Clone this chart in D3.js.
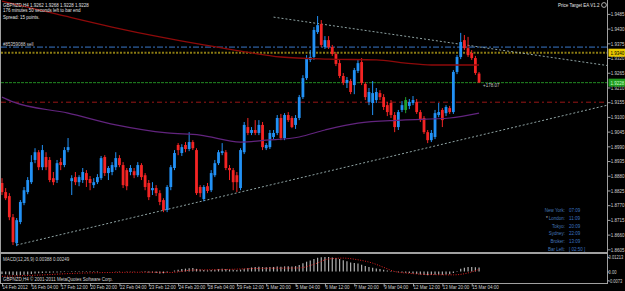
<!DOCTYPE html>
<html lang="en">
<head>
<meta charset="UTF-8">
<title>GBPNZD,H4</title>
<style>
  body { margin: 0; background: #000; }
  svg { display: block; }
  text { font-family: "Liberation Sans", Arial, sans-serif; }
</style>
</head>
<body>
<script src="https://cdn.jsdelivr.net/npm/d3@7"></script>
<script>
// ---- data (H4 bars, 14 Feb 20:00 .. 15 Mar 12:00) ----
var opens = [
  1.8853,1.8819,1.8804,1.8725,1.8628,1.8707,1.8778,1.8819,1.8856,1.8939,
  1.8968,1.8912,1.8950,1.8939,1.8871,1.8864,1.8931,1.8920,1.8976,1.8860,
  1.8875,1.8856,1.8864,1.8890,1.8868,1.8845,1.8856,1.8871,1.8950,1.8890,
  1.8894,1.8912,1.8946,1.8920,1.8901,1.8894,1.8897,1.8882,1.8920,1.8882,
  1.8853,1.8826,1.8834,1.8815,1.8789,1.8752,1.8838,1.8909,1.8995,1.8965,
  1.8995,1.8980,1.9006,1.8976,1.8838,1.8793,1.8841,1.8826,1.8882,1.8927,
  1.8965,1.8968,1.8909,1.8901,1.8882,1.8834,1.8968,1.9062,1.9040,1.9051,
  1.9040,1.9070,1.8983,1.8987,1.9025,1.9040,1.9096,1.9021,1.9107,1.9096,
  1.9070,1.9096,1.9174,1.9245,1.9313,1.9324,1.9417,1.9447,1.9361,1.9387,
  1.9361,1.9335,1.9301,1.9253,1.9227,1.9234,1.9219,1.9272,1.9305,1.9223,
  1.9156,1.9152,1.9163,1.9189,1.9174,1.9144,1.9152,1.9107,1.9062,1.9126,
  1.9126,1.9141,1.9152,1.9156,1.9118,1.9096,1.9043,1.9013,1.9025,1.9107,
  1.9126,1.9114,1.9133,1.9118,1.9268,1.9324,1.9387,1.9357,1.9339,1.9320,
  1.9262];
var highs = [
  1.8871,1.8834,1.8815,1.8737,1.8722,1.8789,1.8838,1.8875,1.8957,1.8983,
  1.8976,1.8995,1.8968,1.8950,1.8894,1.8939,1.8946,1.8987,1.9021,1.8882,
  1.8894,1.8882,1.8909,1.8901,1.8879,1.8871,1.8886,1.8954,1.8957,1.8916,
  1.8931,1.8968,1.8957,1.8931,1.8909,1.8920,1.8909,1.8931,1.8927,1.8890,
  1.8864,1.8856,1.8845,1.8826,1.8796,1.8845,1.8920,1.8976,1.9002,1.8998,
  1.9006,1.9043,1.9013,1.8983,1.8845,1.8845,1.8853,1.8901,1.8939,1.8976,
  1.9002,1.8976,1.8920,1.8909,1.8894,1.8983,1.9081,1.9096,1.9062,1.9088,
  1.9088,1.9081,1.9002,1.9051,1.9051,1.9107,1.9111,1.9114,1.9118,1.9103,
  1.9107,1.9182,1.9256,1.9331,1.9350,1.9436,1.9477,1.9462,1.9402,1.9402,
  1.9369,1.9342,1.9313,1.9264,1.9249,1.9242,1.9283,1.9313,1.9320,1.9230,
  1.9208,1.9234,1.9208,1.9200,1.9185,1.9156,1.9163,1.9118,1.9126,1.9159,
  1.9174,1.9167,1.9178,1.9167,1.9126,1.9103,1.9051,1.9051,1.9126,1.9152,
  1.9133,1.9144,1.9141,1.9275,1.9331,1.9414,1.9406,1.9399,1.9350,1.9328,
  1.9268];
var lows = [
  1.8808,1.8789,1.8714,1.8621,1.8617,1.8699,1.8770,1.8811,1.8849,1.8927,
  1.8901,1.8901,1.8901,1.8856,1.8845,1.8853,1.8901,1.8912,1.8968,1.8808,
  1.8845,1.8841,1.8853,1.8838,1.8826,1.8834,1.8849,1.8864,1.8879,1.8864,
  1.8882,1.8901,1.8912,1.8834,1.8826,1.8882,1.8871,1.8875,1.8864,1.8826,
  1.8789,1.8808,1.8804,1.8770,1.8744,1.8744,1.8826,1.8901,1.8957,1.8954,
  1.8968,1.8972,1.8976,1.8808,1.8800,1.8785,1.8815,1.8819,1.8875,1.8920,
  1.8957,1.8901,1.8864,1.8826,1.8819,1.8826,1.8961,1.9032,1.9032,1.9032,
  1.9032,1.8976,1.8976,1.8980,1.9017,1.9032,1.9013,1.9013,1.9081,1.9058,
  1.9055,1.9088,1.9167,1.9238,1.9305,1.9313,1.9410,1.9361,1.9354,1.9354,
  1.9328,1.9290,1.9245,1.9219,1.9208,1.9185,1.9185,1.9264,1.9219,1.9163,
  1.9144,1.9107,1.9152,1.9163,1.9126,1.9103,1.9096,1.9043,1.9051,1.9118,
  1.9114,1.9129,1.9144,1.9111,1.9081,1.9036,1.9002,1.9006,1.9017,1.9099,
  1.9062,1.9103,1.9111,1.9111,1.9260,1.9316,1.9350,1.9324,1.9313,1.9257,
  1.9228];
var closes = [
  1.8819,1.8796,1.8725,1.8632,1.8714,1.8782,1.8826,1.8864,1.8931,1.8968,
  1.8912,1.8976,1.8912,1.8864,1.8856,1.8927,1.8920,1.8976,1.8987,1.8871,
  1.8856,1.8875,1.8894,1.8864,1.8853,1.8856,1.8875,1.8946,1.8890,1.8909,
  1.8920,1.8946,1.8920,1.8845,1.8841,1.8909,1.8882,1.8920,1.8875,1.8838,
  1.8800,1.8834,1.8815,1.8782,1.8752,1.8838,1.8912,1.8965,1.8976,1.8987,
  1.8980,1.9006,1.8983,1.8815,1.8815,1.8838,1.8823,1.8890,1.8927,1.8968,
  1.8972,1.8909,1.8901,1.8856,1.8856,1.8976,1.9070,1.9040,1.9051,1.9040,
  1.9070,1.8987,1.8995,1.9040,1.9040,1.9096,1.9021,1.9107,1.9088,1.9062,
  1.9096,1.9174,1.9245,1.9320,1.9324,1.9425,1.9443,1.9369,1.9387,1.9361,
  1.9335,1.9298,1.9253,1.9227,1.9238,1.9193,1.9275,1.9301,1.9227,1.9174,
  1.9193,1.9189,1.9193,1.9174,1.9137,1.9118,1.9107,1.9062,1.9118,1.9144,
  1.9163,1.9156,1.9163,1.9118,1.9088,1.9043,1.9013,1.9040,1.9114,1.9118,
  1.9088,1.9137,1.9118,1.9268,1.9324,1.9380,1.9357,1.9331,1.9320,1.9264,
  1.9228];

// moving averages (bar index, value)
var redMaIdx  = [0, 15, 30, 43, 55, 65, 76, 89, 102, 110, 117, 130];
var redMaVals = [1.9533, 1.9484, 1.9436, 1.9399, 1.9369, 1.9346, 1.9324, 1.9316, 1.9313, 1.9301, 1.9294, 1.9294];
var purpleMaIdx  = [0, 3, 18, 31, 45, 54, 65, 72, 81, 88, 97, 109, 122, 130];
var purpleMaVals = [1.9174, 1.9156, 1.9114, 1.9070, 1.9040, 1.9032, 1.9006, 1.9013, 1.9025, 1.9051, 1.9077, 1.9088, 1.9096, 1.9114];

// trend lines: [startIdx, startPrice, endIdx, endPrice]
var lowerTrend = [4, 1.8621, 165, 1.9144];
var upperTrend = [74, 1.9473, 165, 1.9292];

// horizontal levels: sell, target, bid, stop
var levelPrices = [1.9361, 1.9340, 1.9228, 1.9155];

// MACD(12,26,9)
var macdMain = [
  -0.0020,-0.0022,-0.0026,-0.0030,-0.0031,-0.0030,-0.0028,-0.0025,-0.0021,-0.0017,
  -0.0015,-0.0012,-0.0011,-0.0011,-0.0009,-0.0008,-0.0006,-0.0004,-0.0002,-0.0004,
  -0.0005,-0.0005,-0.0004,-0.0004,-0.0005,-0.0005,-0.0004,-0.0001,-0.0001,0.0000,
  0.0001,0.0003,0.0003,0.0000,-0.0002,-0.0002,-0.0002,-0.0001,-0.0002,-0.0005,
  -0.0009,-0.0011,-0.0013,-0.0016,-0.0015,-0.0008,0.0000,0.0008,0.0014,0.0020,
  0.0024,0.0028,0.0030,0.0022,0.0016,0.0012,0.0010,0.0012,0.0015,0.0019,
  0.0022,0.0021,0.0018,0.0014,0.0012,0.0016,0.0024,0.0030,0.0034,0.0037,
  0.0040,0.0037,0.0036,0.0037,0.0038,0.0042,0.0040,0.0043,0.0043,0.0042,
  0.0045,0.0055,0.0068,0.0082,0.0092,0.0105,0.0115,0.0119,0.0121,0.0121,
  0.0118,0.0113,0.0105,0.0095,0.0086,0.0076,0.0071,0.0066,0.0057,0.0046,
  0.0038,0.0031,0.0026,0.0021,0.0015,0.0009,0.0004,-0.0003,-0.0006,-0.0008,
  -0.0010,-0.0012,-0.0016,-0.0020,-0.0025,-0.0030,-0.0032,-0.0030,-0.0028,-0.0027,
  -0.0027,-0.0025,-0.0024,-0.0012,0.0005,0.0022,0.0032,0.0037,0.0038,0.0036,
  0.0033];
var signalIdx  = [0, 10, 20, 30, 40, 46, 52, 60, 70, 81, 85, 89, 93, 97, 101, 104, 107, 111, 116, 123, 127, 130];
var signalVals = [-0.0040,-0.0030,-0.0015,-0.0008,-0.0006,-0.0008,0.0012,0.0016,0.0026,0.0030,0.0060,0.0105,0.0112,0.0098,0.0070,0.0035,0.0000,-0.0015,-0.0025,-0.0028,-0.0012,0.0018];

// axes
var priceTicks = [1.9485,1.9430,1.9375,1.9320,1.9265,1.9210,1.9155,1.9100,1.9045,1.8990,1.8935,1.8880,1.8825,1.8770,1.8715,1.8660,1.8605];
var macdTicks = [0.01213, 0, -0.0073];
var macdTickLabels = ['0.01213', '0.00', '-0.0073'];
var dateIdx = [0, 8, 16, 24, 32, 40, 48, 56, 64, 72, 80, 88, 96, 104, 112, 120, 128];
var dateLabels = ['14 Feb 2012','16 Feb 04:00','17 Feb 12:00','20 Feb 20:00','22 Feb 04:00','23 Feb 12:00',
  '24 Feb 20:00','28 Feb 04:00','29 Feb 12:00','1 Mar 20:00','5 Mar 04:00','6 Mar 12:00','7 Mar 20:00',
  '9 Mar 04:00','12 Mar 12:00','13 Mar 20:00','15 Mar 04:00'];

var clockNames = ['New York:', 'London:', 'Tokyo:', 'Sydney:', 'Broker:', 'Bar Left:'];
var clockTimes = ['07:09', '11:09', '20:09', '22:09', '13:09', '[ 02:50 ]'];

// ---- drawing ----
var W = 625, H = 291;
var axisX = 607.5;
var frame = '#a0a0a0';

var svg = d3.select('body').append('svg')
    .attr('width', W)
    .attr('height', H)
    .style('background', '#000');

var x = d3.scaleLinear().domain([0, 165]).range([2, axisX]);
var y = d3.scaleLinear().domain([1.8595, 1.9537]).range([252, 0]);
var ym = d3.scaleLinear().domain([-0.00962, 0.01464]).range([283, 254]);

svg.append('clipPath').attr('id', 'mainClip')
  .append('rect').attr('x', 1).attr('y', 0).attr('width', axisX - 1).attr('height', 252);
svg.append('clipPath').attr('id', 'macdClip')
  .append('rect').attr('x', 1).attr('y', 254).attr('width', axisX - 1).attr('height', 29);

var main = svg.append('g').attr('clip-path', 'url(#mainClip)');

function txt(g, px, py, s, fill, anchor, sx) {
    return g.append('text')
        .attr('transform', 'translate(' + px + ',' + py + ') scale(' + (sx || 0.82) + ',1)')
        .attr('text-anchor', anchor || 'start')
        .attr('font-size', 5.5)
        .attr('fill', fill)
        .text(s);
}

// horizontal levels
var levelStyle = [
    {stroke: '#3a78c8', width: 1, dash: '6,2,2,2'},
    {stroke: '#8c7c12', width: 2, dash: '2,1.5'},
    {stroke: '#238a23', width: 1, dash: '3,1'},
    {stroke: '#981616', width: 1, dash: '5,3,2,3'}
];
main.selectAll('line.level')
    .data(levelPrices)
    .enter()
    .append('line')
    .attr('class', 'level')
    .attr('x1', 1).attr('x2', axisX)
    .attr('y1', function(d) { return y(d); })
    .attr('y2', function(d) { return y(d); })
    .attr('stroke', function(d, i) { return levelStyle[i].stroke; })
    .attr('stroke-width', function(d, i) { return levelStyle[i].width; })
    .attr('stroke-dasharray', function(d, i) { return levelStyle[i].dash; });

// trend lines
[lowerTrend, upperTrend].forEach(function(t) {
    main.append('line')
        .attr('x1', x(t[0])).attr('y1', y(t[1]))
        .attr('x2', x(t[2])).attr('y2', y(t[3]))
        .attr('stroke', '#8fa3a3')
        .attr('stroke-width', 1)
        .attr('stroke-dasharray', '2,2');
});

// candles
var greenBar = 110;
var bars = d3.range(opens.length);
function barColor(i) {
    if (i === greenBar) return '#22a02a';
    return closes[i] >= opens[i] ? '#2291f5' : '#f42424';
}
var candle = main.selectAll('g.candle')
    .data(bars)
    .enter()
    .append('g')
    .attr('class', 'candle');
candle.append('line')
    .attr('x1', function(i) { return x(i); })
    .attr('x2', function(i) { return x(i); })
    .attr('y1', function(i) { return y(highs[i]); })
    .attr('y2', function(i) { return y(lows[i]); })
    .attr('stroke', barColor)
    .attr('stroke-width', 1);
candle.append('rect')
    .attr('x', function(i) { return x(i) - 1.4; })
    .attr('width', 2.8)
    .attr('y', function(i) { return y(Math.max(opens[i], closes[i])); })
    .attr('height', function(i) { return Math.max(1, Math.abs(y(opens[i]) - y(closes[i]))); })
    .attr('fill', barColor);

// moving averages
var maLine = d3.line()
    .x(function(d) { return x(d[0]); })
    .y(function(d) { return y(d[1]); })
    .curve(d3.curveMonotoneX);
main.append('path')
    .attr('d', maLine(d3.zip(redMaIdx, redMaVals)))
    .attr('fill', 'none')
    .attr('stroke', '#8e0a0a')
    .attr('stroke-width', 1.3);
main.append('path')
    .attr('d', maLine(d3.zip(purpleMaIdx, purpleMaVals)))
    .attr('fill', 'none')
    .attr('stroke', '#62247e')
    .attr('stroke-width', 1.2);

// chart texts
txt(svg, 3, 6.5, 'GBPNZD,H4  1.9262 1.9268 1.9228 1.9228', '#e0e0e0');
txt(svg, 3, 12, '176 minutes 50 seconds left to bar end', '#e0e0e0');
txt(svg, 3, 18.5, 'Spread: 15 points.', '#e0e0e0');
txt(svg, 3, 46, '#85359088 sell', '#d0d0d0');
txt(svg, 483, 86.5, '+178.07', '#c0c0c0');
txt(svg, 558, 7, 'Price Target EA V1.2', '#e8e8e8');
svg.append('circle').attr('cx', 604).attr('cy', 5).attr('r', 2.4)
    .attr('fill', 'none').attr('stroke', '#d8d8d8').attr('stroke-width', 0.8);

// clocks box
clockNames.forEach(function(n, i) {
    var cy = 212 + i * 7.8;
    txt(svg, 565, cy, n, '#4478b8', 'end');
    txt(svg, 569, cy, clockTimes[i], '#3a72c0');
});
txt(svg, 546, 220, '*', '#c0c0c0');

// MACD panel
var macd = svg.append('g').attr('clip-path', 'url(#macdClip)');
macd.selectAll('line.hist')
    .data(bars)
    .enter()
    .append('line')
    .attr('class', 'hist')
    .attr('x1', function(i) { return x(i); })
    .attr('x2', function(i) { return x(i); })
    .attr('y1', ym(0))
    .attr('y2', function(i) { return ym(macdMain[i]); })
    .attr('stroke', '#b0b0b0')
    .attr('stroke-width', 1.2);
var sigLine = d3.line()
    .x(function(d) { return x(d[0]); })
    .y(function(d) { return ym(d[1]); })
    .curve(d3.curveMonotoneX);
macd.append('path')
    .attr('d', sigLine(d3.zip(signalIdx, signalVals)))
    .attr('fill', 'none')
    .attr('stroke', '#e02020')
    .attr('stroke-width', 1)
    .attr('stroke-dasharray', '1,1.5');
txt(svg, 3, 261, 'MACD(12,26,9) 0.00388 0.00249', '#d0d0d0');
txt(svg, 3, 281, 'GBPNZD,H4  \u00a9 2001-2011 MetaQuotes Software Corp.', '#d8d8d8');

// frame
svg.append('line').attr('x1', 0.5).attr('x2', 0.5).attr('y1', 0).attr('y2', 283)
    .attr('stroke', frame).attr('stroke-width', 1);
svg.append('line').attr('x1', 0).attr('x2', axisX).attr('y1', 253).attr('y2', 253)
    .attr('stroke', frame).attr('stroke-width', 2);
svg.append('line').attr('x1', 0).attr('x2', axisX).attr('y1', 283.5).attr('y2', 283.5)
    .attr('stroke', frame).attr('stroke-width', 1);

// price axis
var yAxis = svg.append('g')
    .attr('transform', 'translate(' + axisX + ',0)')
    .call(d3.axisRight(y).tickValues(priceTicks).tickSize(3).tickFormat(d3.format('.4f')));
var mAxis = svg.append('g')
    .attr('transform', 'translate(' + axisX + ',0)')
    .call(d3.axisRight(ym).tickValues(macdTicks).tickSize(2)
        .tickFormat(function(d, i) { return macdTickLabels[i]; }));
var xAxis = svg.append('g')
    .attr('transform', 'translate(0,283.5)')
    .call(d3.axisBottom(x).tickValues(dateIdx).tickSize(3)
        .tickFormat(function(d, i) { return dateLabels[i]; }));

[yAxis, mAxis, xAxis].forEach(function(a) {
    a.select('.domain').remove();
    a.selectAll('line').attr('stroke', frame);
    a.selectAll('text')
        .attr('fill', '#d0d0d0')
        .attr('font-size', 5.5)
        .attr('font-family', '"Liberation Sans", Arial, sans-serif');
});
yAxis.selectAll('text').attr('x', 4).attr('transform', 'scale(0.82,1)');
mAxis.selectAll('text').attr('x', 1.5).attr('transform', 'scale(0.74,1)');
xAxis.selectAll('text')
    .attr('text-anchor', 'start')
    .attr('x', 0)
    .attr('y', 1.5)
    .attr('transform', 'scale(0.82,1)');

svg.append('line').attr('x1', axisX).attr('x2', axisX).attr('y1', 0).attr('y2', 284)
    .attr('stroke', frame).attr('stroke-width', 1);

// highlighted price labels on the axis
var tags = [[levelPrices[1], '#e8c800', '#000'], [levelPrices[2], '#1f9a1f', '#c8ffc8']];
tags.forEach(function(t) {
    svg.append('rect')
        .attr('x', axisX + 1).attr('y', y(t[0]) - 4)
        .attr('width', W - axisX - 1).attr('height', 8)
        .attr('fill', t[1]);
    txt(svg, axisX + 3, y(t[0]) + 2, d3.format('.4f')(t[0]), t[2]);
});
</script>
</body>
</html>
